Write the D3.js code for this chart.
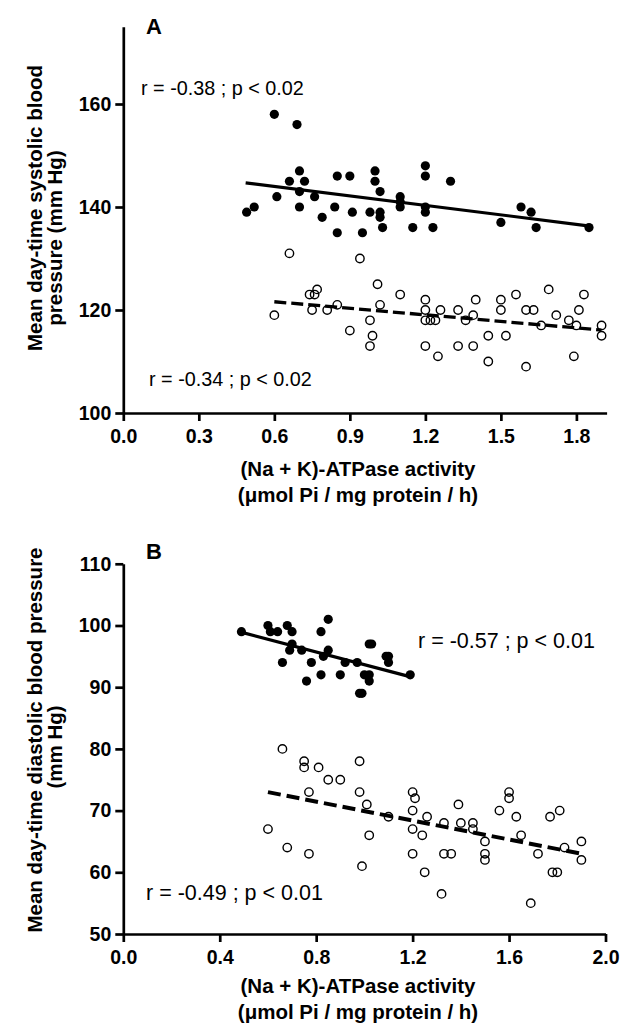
<!DOCTYPE html>
<html lang="en">
<head>
<meta charset="UTF-8">
<title>ATPase activity vs blood pressure</title>
<script src="https://d3js.org/d3.v7.min.js"></script>
<style>
  body { margin: 0; background: #fff; }
  svg { display: block; font-family: "Liberation Sans", Arial, sans-serif; }
  .axis path, .axis line { stroke: #000; stroke-width: 2.7px; }
  .axis text { font-size: 19.5px; font-weight: bold; fill: #000; }
  .title { font-size: 20.5px; font-weight: bold; }
</style>
</head>
<body>
<div id="chart"></div>
<script>
// tick values
const xTicksA = [0, 0.3, 0.6, 0.9, 1.2, 1.5, 1.8];
const yTicksA = [100, 120, 140, 160];
const xTicksB = [0, 0.4, 0.8, 1.2, 1.6, 2.0];
const yTicksB = [50, 60, 70, 80, 90, 100, 110];

// panel A: systolic, filled = upper group, open = lower group  [activity, mmHg]
const sysFilled = [[0.49,139],[0.52,140],[0.60,158],[0.61,142],[0.66,145],[0.69,156],[0.70,147],[0.70,143],
  [0.70,140],[0.72,145],[0.76,142],[0.79,138],[0.84,140],[0.85,146],[0.85,135],[0.90,146],[0.91,139],
  [0.95,135],[0.98,139],[1.00,147],[1.00,145],[1.02,143],[1.02,139],[1.02,138],[1.03,136],[1.10,142],
  [1.10,141],[1.10,140],[1.15,136],[1.20,148],[1.20,146],[1.20,140],[1.20,139],[1.23,136],[1.30,145],
  [1.50,137],[1.58,140],[1.62,139],[1.64,136],[1.85,136]];
const sysOpen = [[0.60,119],[0.66,131],[0.74,123],[0.76,123],[0.77,124],[0.75,120],[0.81,120],[0.85,121],
  [0.90,116],[0.94,130],[0.98,118],[0.99,115],[0.98,113],[1.01,125],[1.02,121],[1.10,123],[1.20,122],
  [1.20,120],[1.20,118],[1.22,118],[1.24,118],[1.26,120],[1.20,113],[1.25,111],[1.33,120],[1.33,113],
  [1.36,118],[1.39,119],[1.39,113],[1.40,122],[1.45,115],[1.45,110],[1.50,122],[1.50,120],[1.52,115],
  [1.56,123],[1.60,120],[1.63,120],[1.60,109],[1.66,117],[1.69,124],[1.72,119],[1.77,118],[1.79,111],
  [1.80,117],[1.81,120],[1.83,123],[1.90,117],[1.90,115]];
const sysFitFilled = [[0.486,144.7],[1.854,136.3]];
const sysFitOpen = [[0.60,121.6],[1.90,116.1]];

// panel B: diastolic
const diaFilled = [[0.49,99],[0.60,100],[0.61,99],[0.64,99],[0.68,100],[0.70,99],[0.70,97],[0.69,96],
  [0.74,96],[0.66,94],[0.78,94],[0.76,91],[0.82,99],[0.85,101],[0.85,96],[0.83,95],[0.82,92],[0.90,92],
  [0.92,94],[0.97,94],[1.00,92],[1.02,92],[1.02,91],[0.98,89],[0.99,89],[1.02,97],[1.03,97],[1.09,95],
  [1.10,95],[1.10,94],[1.19,92]];
const diaOpen = [[0.60,67],[0.66,80],[0.68,64],[0.75,78],[0.75,77],[0.77,73],[0.77,63],[0.81,77],
  [0.85,75],[0.90,75],[0.98,78],[0.98,73],[0.99,61],[1.01,71],[1.02,66],[1.10,69],[1.20,73],[1.21,72],
  [1.20,70],[1.20,67],[1.20,63],[1.24,66],[1.25,60],[1.26,69],[1.32,56.5],[1.33,68],[1.33,63],[1.36,63],
  [1.39,71],[1.40,68],[1.45,68],[1.45,67],[1.50,65],[1.50,63],[1.50,62],[1.56,70],[1.60,73],[1.60,72],
  [1.63,69],[1.65,66],[1.69,55],[1.72,63],[1.77,69],[1.78,60],[1.80,60],[1.81,70],[1.83,64],[1.90,65],
  [1.90,62]];
const diaFitFilled = [[0.48,99.0],[1.20,91.6]];
const diaFitOpen = [[0.60,73.0],[1.90,63.0]];

const W = 625, H = 1031;
const svg = d3.select('#chart').append('svg')
  .attr('width', W).attr('height', H);

function drawPanel(p) {
  const x = d3.scaleLinear().domain(p.xDomain).range([123.3, p.xEnd]);
  const y = d3.scaleLinear().domain(p.yDomain).range([p.yBottom, p.yTop]);
  const g = svg.append('g');

  g.append('g').attr('class', 'axis')
    .attr('transform', `translate(0,${p.yBottom})`)
    .call(d3.axisBottom(x).tickValues(p.xTicks).tickFormat(d3.format('.1f'))
      .tickSize(8).tickSizeOuter(0).tickPadding(8));
  g.append('g').attr('class', 'axis')
    .attr('transform', 'translate(123.3,0)')
    .call(d3.axisLeft(y).tickValues(p.yTicks).tickFormat(d3.format('d'))
      .tickSize(8).tickSizeOuter(0).tickPadding(4));

  const line = d3.line().x(d => x(d[0])).y(d => y(d[1]));
  g.append('path').datum(p.fitFilled).attr('d', line)
    .attr('stroke', '#000').attr('stroke-width', 3.2).attr('fill', 'none');
  g.append('path').datum(p.fitOpen).attr('d', line)
    .attr('stroke', '#000').attr('stroke-width', p.dashW).attr('fill', 'none')
    .attr('stroke-dasharray', p.dash);

  g.append('g').selectAll('circle').data(p.filled).join('circle')
    .attr('cx', d => x(d[0])).attr('cy', d => y(d[1])).attr('r', 4.6)
    .attr('fill', '#000');
  g.append('g').selectAll('circle').data(p.open).join('circle')
    .attr('cx', d => x(d[0])).attr('cy', d => y(d[1])).attr('r', 4.2)
    .attr('fill', 'none').attr('stroke', '#000').attr('stroke-width', 1.4);

  // panel letter
  g.append('text').attr('x', 146).attr('y', p.letterY)
    .attr('font-size', 22).attr('font-weight', 'bold').text(p.letter);

  // stats
  p.stats.forEach(s => {
    g.append('text').attr('x', s.x).attr('y', s.y)
      .attr('font-size', p.statSize).text(s.text);
  });

  // x title
  const xt = g.append('text').attr('class', 'title').attr('text-anchor', 'middle');
  p.xTitle.forEach((t, i) => {
    xt.append('tspan').attr('x', 358).attr('y', p.xTitleY + i * 26).text(t);
  });
  // y title, one text per line (lines are not centred on the same point)
  p.yTitle.forEach((t, i) => {
    g.append('text').attr('class', 'title').attr('text-anchor', 'middle')
      .attr('transform', `translate(${42 + i * 20},${p.yTitleMid[i]}) rotate(-90)`)
      .text(t);
  });
}

drawPanel({
  xDomain: [0, 1.92], xEnd: 606.6, yDomain: [100, 175], yBottom: 413, yTop: 26.75,
  xTicks: xTicksA, yTicks: yTicksA,
  filled: sysFilled, open: sysOpen, fitFilled: sysFitFilled, fitOpen: sysFitOpen,
  dash: '12,5', dashW: 3.3, letter: 'A', letterY: 34, statSize: 19.8,
  stats: [
    { x: 141, y: 95, text: 'r = -0.38 ; p < 0.02' },
    { x: 149, y: 386, text: 'r = -0.34 ; p < 0.02' }
  ],
  xTitle: ['(Na + K)-ATPase activity', '(\u03bcmol Pi / mg protein / h)'], xTitleY: 476,
  yTitle: ['Mean day-time systolic blood', 'pressure (mm Hg)'], yTitleMid: [208, 238]
});

drawPanel({
  xDomain: [0, 2.0], xEnd: 605.5, yDomain: [50, 110], yBottom: 934, yTop: 563.8,
  xTicks: xTicksB, yTicks: yTicksB,
  filled: diaFilled, open: diaOpen, fitFilled: diaFitFilled, fitOpen: diaFitOpen,
  dash: '13,6', dashW: 4, letter: 'B', letterY: 559, statSize: 21.5,
  stats: [
    { x: 418, y: 648, text: 'r = -0.57 ; p < 0.01' },
    { x: 146, y: 900, text: 'r = -0.49 ; p < 0.01' }
  ],
  xTitle: ['(Na + K)-ATPase activity', '(\u03bcmol Pi / mg protein / h)'], xTitleY: 993,
  yTitle: ['Mean day-time diastolic blood pressure', '(mm Hg)'], yTitleMid: [740, 747]
});
</script>
</body>
</html>
